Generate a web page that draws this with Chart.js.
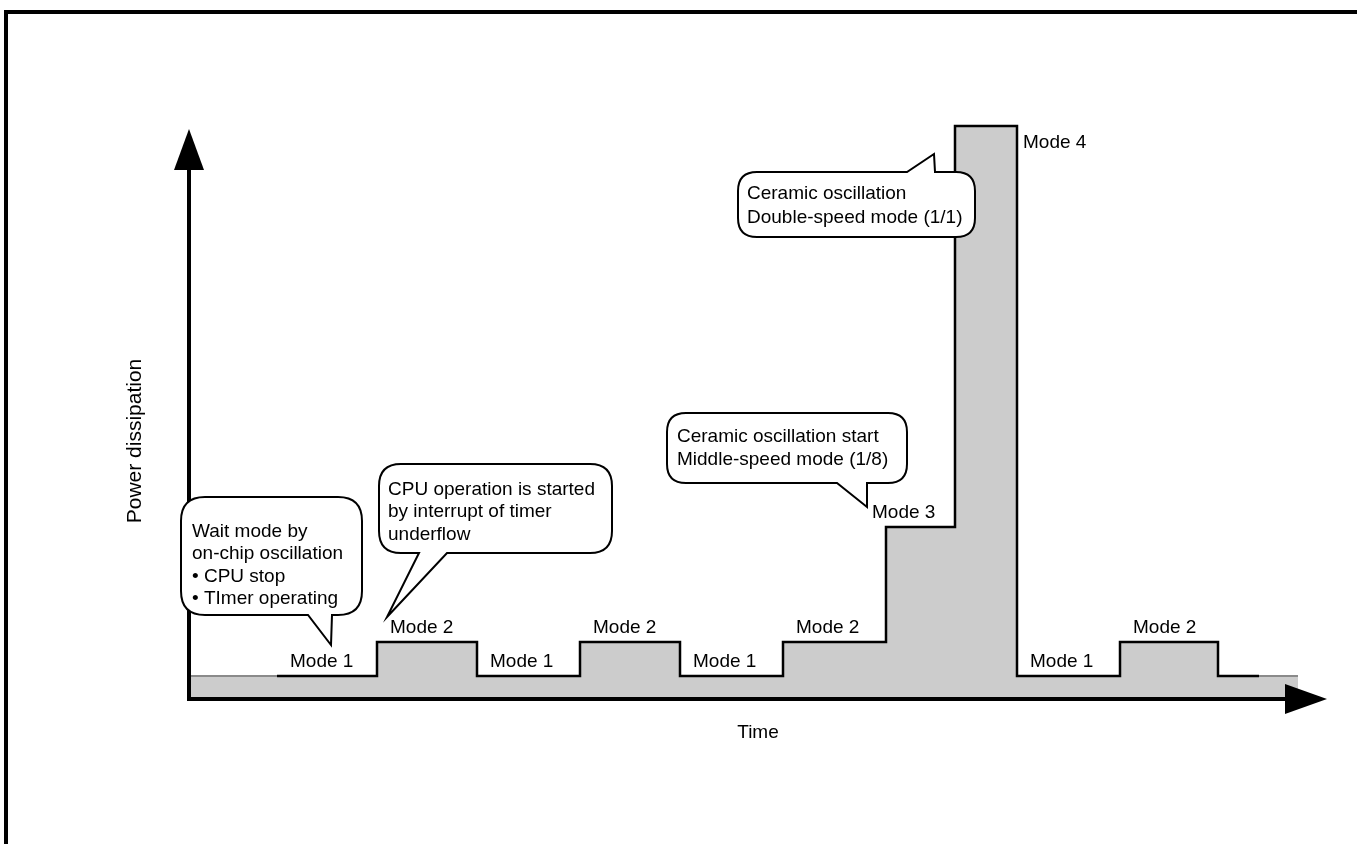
<!DOCTYPE html>
<html>
<head>
<meta charset="utf-8">
<script src="https://cdn.jsdelivr.net/npm/chart.js@4.4.1/dist/chart.umd.min.js"></script>
<style>
  html, body { margin: 0; padding: 0; background: #fff; }
  #wrap { position: relative; width: 1357px; height: 844px; overflow: hidden; }
  #frame { position: absolute; left: 4px; top: 10px; width: 1400px; height: 900px; border-left: 4px solid #000; border-top: 4px solid #000; }
  canvas { position: absolute; left: 0; top: 0; }
</style>
</head>
<body>
<div id="wrap">
  <div id="frame"></div>
  <canvas id="power-chart" width="1357" height="844"></canvas>
</div>
<script>
// operating modes along the time axis (arbitrary units)
const modeLabels = ["Mode 1", "Mode 2", "Mode 1", "Mode 2", "Mode 1", "Mode 2", "Mode 3", "Mode 4", "Mode 1", "Mode 2"];
const modeStart = [8.8, 18.8, 28.8, 39.1, 49.1, 59.4, 69.7, 76.6, 82.8, 93.1];
const modeEnd = [18.8, 28.8, 39.1, 49.1, 59.4, 69.7, 76.6, 82.8, 93.1, 102.9];
const modePower = [2.3, 5.7, 2.3, 5.7, 2.3, 5.7, 17.2, 57.3, 2.3, 5.7];

const idlePower = 2.3;
const traceEnd = 107;
const bandEnd = 110.9;
const timeMax = 113.8;
const powerMax = 58;
const powerArrow = 57;

// callouts: text and the point the tail points to
const calloutText = [
  ["Wait mode by", "on-chip oscillation", "\u2022 CPU stop", "\u2022 TImer operating"],
  ["CPU operation is started", "by interrupt of timer", "underflow"],
  ["Ceramic oscillation start", "Middle-speed mode (1/8)"],
  ["Ceramic oscillation", "Double-speed mode (1/1)"],
];
const calloutTime = [14.2, 19.8, 67.8, 74.5];
const calloutPower = [5.4, 8.2, 19.2, 54.5];

const FONT = '19px "Liberation Sans", Arial, sans-serif';

// box layout relative to the tail tip, in pixels
const bubbleLayout = [
  { dx: -150, dy: -148, w: 181, h: 118, side: "bottom", tail: [-23, 1], pad: 11, first: 40, lh: 22.4, r: 24 },
  { dx: -8, dy: -153, w: 233, h: 89, side: "bottom", tail: [32, 60], pad: 9, first: 31, lh: 22.3, r: 22 },
  { dx: -200, dy: -94, w: 240, h: 70, side: "bottom", tail: [-30, 0], pad: 10, first: 29, lh: 23, r: 19 },
  { dx: -196, dy: 18, w: 237, h: 65, side: "top", tail: [-27, 1], pad: 9, first: 27, lh: 24, r: 19 },
];

function tracePoints() {
  const pts = modeStart.map((t, i) => ({ x: t, y: modePower[i] }));
  pts.push({ x: modeEnd[modeEnd.length - 1], y: idlePower });
  pts.push({ x: traceEnd, y: idlePower });
  return pts;
}

function bandPoints() {
  const pts = [{ x: 0, y: idlePower }];
  modeStart.forEach((t, i) => pts.push({ x: t, y: modePower[i] }));
  pts.push({ x: modeEnd[modeEnd.length - 1], y: idlePower });
  pts.push({ x: bandEnd, y: idlePower });
  return pts;
}

// rounded box with a wedge tail on the top or bottom side
function bubblePath(ctx, L, T, W, H, r, side, a, b, tx, ty) {
  const R = L + W, B = T + H;
  ctx.beginPath();
  ctx.moveTo(L + r, T);
  if (side === "top") { ctx.lineTo(a, T); ctx.lineTo(tx, ty); ctx.lineTo(b, T); }
  ctx.lineTo(R - r, T);
  ctx.quadraticCurveTo(R, T, R, T + r);
  ctx.lineTo(R, B - r);
  ctx.quadraticCurveTo(R, B, R - r, B);
  if (side === "bottom") { ctx.lineTo(b, B); ctx.lineTo(tx, ty); ctx.lineTo(a, B); }
  ctx.lineTo(L + r, B);
  ctx.quadraticCurveTo(L, B, L, B - r);
  ctx.lineTo(L, T + r);
  ctx.quadraticCurveTo(L, T, L + r, T);
  ctx.closePath();
}

const decorations = {
  id: "decorations",
  afterDatasetsDraw(chart) {
    const ctx = chart.ctx;
    const xs = chart.scales.x, ys = chart.scales.y;
    const x0 = xs.getPixelForValue(0), y0 = ys.getPixelForValue(0);
    const xTip = xs.getPixelForValue(timeMax), yTip = ys.getPixelForValue(powerArrow);
    ctx.save();

    // axes with arrows
    ctx.strokeStyle = "#000";
    ctx.fillStyle = "#000";
    ctx.lineWidth = 4;
    ctx.beginPath();
    ctx.moveTo(x0, y0 + 2);
    ctx.lineTo(x0, yTip + 40);
    ctx.moveTo(x0 - 2, y0);
    ctx.lineTo(xTip - 40, y0);
    ctx.stroke();
    ctx.beginPath();
    ctx.moveTo(x0, yTip);
    ctx.lineTo(x0 - 15, yTip + 41);
    ctx.lineTo(x0 + 15, yTip + 41);
    ctx.closePath();
    ctx.fill();
    ctx.beginPath();
    ctx.moveTo(xTip, y0);
    ctx.lineTo(xTip - 42, y0 - 15);
    ctx.lineTo(xTip - 42, y0 + 15);
    ctx.closePath();
    ctx.fill();

    // axis titles
    ctx.font = FONT;
    ctx.textAlign = "center";
    ctx.textBaseline = "alphabetic";
    ctx.fillText("Time", (x0 + xTip) / 2, y0 + 39);
    ctx.save();
    ctx.font = '21px "Liberation Sans", Arial, sans-serif';
    ctx.translate(x0 - 54, y0 - 258);
    ctx.rotate(-Math.PI / 2);
    ctx.textBaseline = "middle";
    ctx.fillText("Power dissipation", 0, 0);
    ctx.restore();

    // mode labels
    ctx.textAlign = "left";
    const peak = modePower.indexOf(Math.max(...modePower));
    modeLabels.forEach((label, i) => {
      const xs0 = xs.getPixelForValue(modeStart[i]);
      const xe = xs.getPixelForValue(modeEnd[i]);
      const yl = ys.getPixelForValue(modePower[i]);
      if (i === peak) {
        ctx.fillText(label, xe + 6, yl + 22);
      } else if (i === peak - 1) {
        ctx.fillText(label, xs0 - 14, yl - 9);
      } else {
        ctx.fillText(label, xs0 + 13, yl - 9);
      }
    });

    // callout bubbles
    calloutText.forEach((lines, i) => {
      const b = bubbleLayout[i];
      const tx = xs.getPixelForValue(calloutTime[i]);
      const ty = ys.getPixelForValue(calloutPower[i]);
      const L = tx + b.dx, T = ty + b.dy;
      bubblePath(ctx, L, T, b.w, b.h, b.r, b.side, tx + b.tail[0], tx + b.tail[1], tx, ty);
      ctx.fillStyle = "#fff";
      ctx.fill();
      ctx.lineWidth = 2;
      ctx.lineJoin = "miter";
      ctx.strokeStyle = "#000";
      ctx.stroke();
      ctx.fillStyle = "#000";
      lines.forEach((line, k) => ctx.fillText(line, L + b.pad, T + b.first + k * b.lh));
    });

    ctx.restore();
  },
};

const config = {
  type: "line",
  data: {
    datasets: [
      {
        label: "Power",
        data: tracePoints(),
        stepped: true,
        borderColor: "#000",
        borderWidth: 2.5,
        borderJoinStyle: "miter",
        borderCapStyle: "butt",
        pointRadius: 0,
        fill: false,
        order: 0,
      },
      {
        label: "Band",
        data: bandPoints(),
        stepped: true,
        borderColor: "#8a8a8a",
        borderWidth: 2,
        backgroundColor: "#cccccc",
        pointRadius: 0,
        fill: "origin",
        order: 1,
      },
    ],
  },
  options: {
    responsive: false,
    animation: false,
    devicePixelRatio: 1,
    layout: { padding: { left: 189, right: 30, top: 119, bottom: 145 } },
    plugins: {
      legend: { display: false },
      tooltip: { enabled: false },
    },
    scales: {
      x: { type: "linear", min: 0, max: timeMax, display: false },
      y: { type: "linear", min: 0, max: powerMax, display: false },
    },
  },
  plugins: [decorations],
};

new Chart(document.getElementById("power-chart").getContext("2d"), config);
</script>
</body>
</html>
